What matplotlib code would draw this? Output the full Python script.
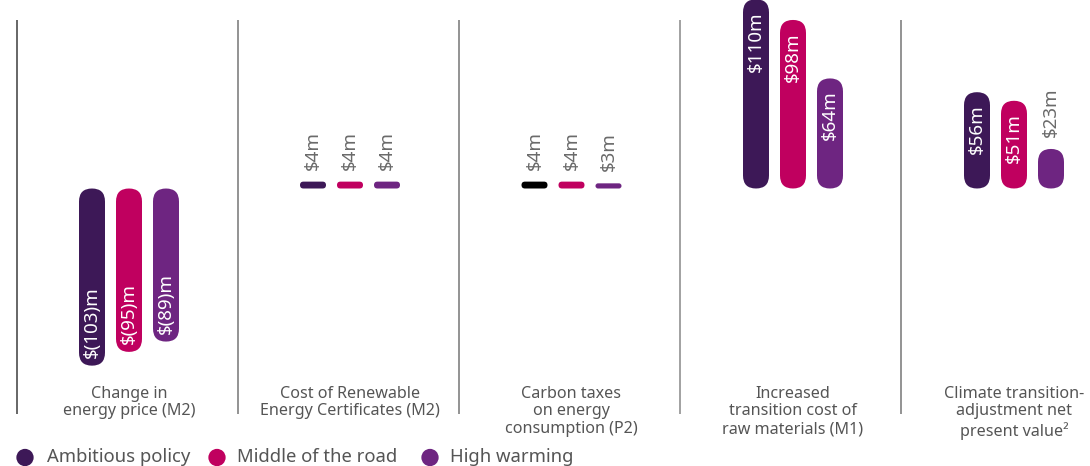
import matplotlib
matplotlib.use("Agg")
import matplotlib.pyplot as plt
from matplotlib.patches import FancyBboxPatch

plt.rcParams['font.family'] = ['Noto Sans', 'DejaVu Sans']

# ---------------- data ----------------
categories = [
    "Change in\nenergy price (M2)",
    "Cost of Renewable\nEnergy Certificates (M2)",
    "Carbon taxes\non energy\nconsumption (P2)",
    "Increased\ntransition cost of\nraw materials (M1)",
    "Climate transition-\nadjustment net\npresent value\u00b2",
]
series_names = ["Ambitious policy", "Middle of the road", "High warming"]
ambitious = [-103, 4, 4, 110, 56]
middle_road = [-95, 4, 4, 98, 51]
high_warming = [-89, 4, 3, 64, 23]
series_values = [ambitious, middle_road, high_warming]
series_colors = ["#3d1857", "#c0005f", "#6e2581"]
# special bar colour override (panel 3, ambitious policy drawn in black)
bar_color_override = {(2, 0): "#000000"}

# ---------------- layout ----------------
S = 1.72            # pixels per $m
BASE = 188.5        # baseline pixel row (from top)
W, H = 1090, 466
panel_px = [129, 350, 571.5, 793, 1014]
offsets_px = [-37, 0, 37]
bar_w_px = 26
divider_px = [17.5, 238, 459, 680, 901]
divider_colors = ["#5a5a5a", "#8a8a8a", "#8a8a8a", "#9a9a9a", "#8a8a8a"]


def X(px):
    return px / S


def Y(py):
    return (BASE - py) / S


fig = plt.figure(figsize=(W / 100, H / 100), dpi=100)
ax = fig.add_axes([0, 0, 1, 1])
ax.set_xlim(0, X(W))
ax.set_ylim(Y(H), Y(0))
ax.axis("off")

# dividers
for dx, dc in zip(divider_px, divider_colors):
    ax.plot([X(dx), X(dx)], [Y(20), Y(414)], color=dc, lw=1.3,
            solid_capstyle="butt")


def fmt(v):
    return f"$({abs(v)})m" if v < 0 else f"${v}m"


for i, cat in enumerate(categories):
    for j, vals in enumerate(series_values):
        v = vals[i]
        color = bar_color_override.get((i, j), series_colors[j])
        cx = panel_px[i] + offsets_px[j]
        x0 = X(cx - bar_w_px / 2)
        w = bar_w_px / S
        y0 = min(0, v)
        h = abs(v)
        r = min(w, h) / 2
        p = FancyBboxPatch((x0, y0), w, h,
                           boxstyle=f"round,pad=0,rounding_size={r}",
                           fc=color, ec="none", clip_on=False)
        ax.add_patch(p)
        lab = fmt(v)
        if abs(v) >= 40:
            if v > 0:
                ax.text(X(cx), v - 12 / S, lab, rotation=90, ha="center",
                        va="top", color="white", fontsize=13.5)
            else:
                ax.text(X(cx), v + 8 / S, lab, rotation=90, ha="center",
                        va="bottom", color="white", fontsize=13.5)
        else:
            ax.text(X(cx), v + 12 / S, lab, rotation=90, ha="center",
                    va="bottom", color="#6a6a6a", fontsize=13.5)
    ax.text(X(panel_px[i]), Y(385.5), cat, ha="center", va="top",
            fontsize=11.6, color="#555555", linespacing=1.16)

# legend
leg_circle_px = [25, 217, 430]
leg_text_px = [47, 237, 450]
for j, name in enumerate(series_names):
    ax.scatter([X(leg_circle_px[j])], [Y(457.5)], s=155,
               color=series_colors[j], clip_on=False, edgecolors="none")
    ax.text(X(leg_text_px[j]), Y(456.5), name, ha="left", va="center",
            fontsize=13.3, color="#555555")

fig.savefig("out.png", dpi=100)
